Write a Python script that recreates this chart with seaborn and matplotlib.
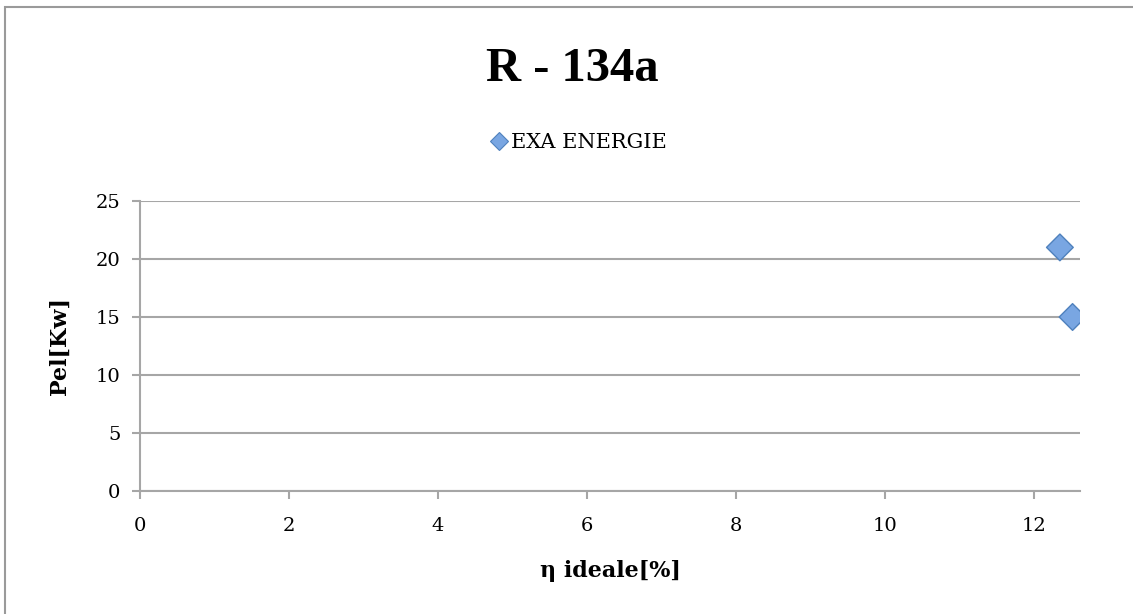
import matplotlib
matplotlib.use("Agg")
import matplotlib.pyplot as plt
import seaborn as sns
import pandas as pd
from matplotlib.patches import Rectangle
from matplotlib.lines import Line2D

# Data
series_name = "EXA ENERGIE"
eta_ideale = [12.35, 12.52]
pel_kw = [21.0, 15.0]
x_ticks = [0, 2, 4, 6, 8, 10, 12]
y_ticks = [0, 5, 10, 15, 20, 25]
title = "R - 134a"
x_label = "η ideale[%]"
y_label = "Pel[Kw]"

df = pd.DataFrame({"x": eta_ideale, "y": pel_kw, "serie": [series_name] * len(eta_ideale)})

sns.set_theme(style="white")
plt.rcParams["font.family"] = ["DejaVu Serif", "DejaVu Sans"]
plt.rcParams["text.color"] = "black"
plt.rcParams["axes.labelcolor"] = "black"

W, H = 1133, 614
fig = plt.figure(figsize=(W / 100, H / 100), dpi=100)
ax = fig.add_axes([140 / W, 1 - 491 / H, (1080 - 140) / W, (491 - 201) / H])

grey = "#a6a6a6"
fill = "#79a6e2"
edge = "#4f81bd"
sns.scatterplot(data=df, x="x", y="y", hue="serie", palette=[fill], marker="D",
                s=185, edgecolor=edge, linewidth=1.0, ax=ax, zorder=3, legend=False)

ax.set_xlim(0, 12.62)
ax.set_ylim(0, 25)
ax.set_xticks(x_ticks)
ax.set_yticks(y_ticks)
ax.set_xticklabels([str(t) for t in x_ticks], fontsize=14)
ax.set_yticklabels([str(t) for t in y_ticks], fontsize=14)
ax.yaxis.grid(True, color=grey, linewidth=1.5)
ax.xaxis.grid(False)
ax.set_axisbelow(True)
for s in ["top", "right"]:
    ax.spines[s].set_visible(False)
for s in ["left", "bottom"]:
    ax.spines[s].set_color(grey)
    ax.spines[s].set_linewidth(1.5)
ax.tick_params(axis="both", direction="out", length=6, width=1.5, color=grey,
               labelcolor="black", bottom=True, left=True)
ax.tick_params(axis="x", pad=13)
ax.tick_params(axis="y", pad=8)

ax.set_xlabel(x_label, fontsize=16, fontweight="bold", labelpad=18, color="black")
ax.set_ylabel(y_label, fontsize=16, fontweight="bold", labelpad=18, color="black")

fig.text(0.505, 1 - 81 / H, title, ha="center", va="baseline", fontsize=35,
         fontweight="bold", family=["Liberation Serif", "DejaVu Serif"], color="black")

# legend
h = Line2D([], [], marker="D", linestyle="none", markersize=9, markerfacecolor=fill,
           markeredgecolor=edge, markeredgewidth=0.8)
leg = fig.legend([h], [series_name], loc="center", bbox_to_anchor=(0.51, 1 - 143 / H),
                 frameon=False, fontsize=15, handletextpad=0.1, handlelength=1.0)
for t in leg.get_texts():
    t.set_color("black")

# outer border
fig.add_artist(Rectangle((5 / W, -0.01), 1.1, 1 - 6.5 / H + 0.01, transform=fig.transFigure,
                         fill=False, edgecolor="#9a9a9a", linewidth=1.5))

fig.savefig("out.png", dpi=100)
